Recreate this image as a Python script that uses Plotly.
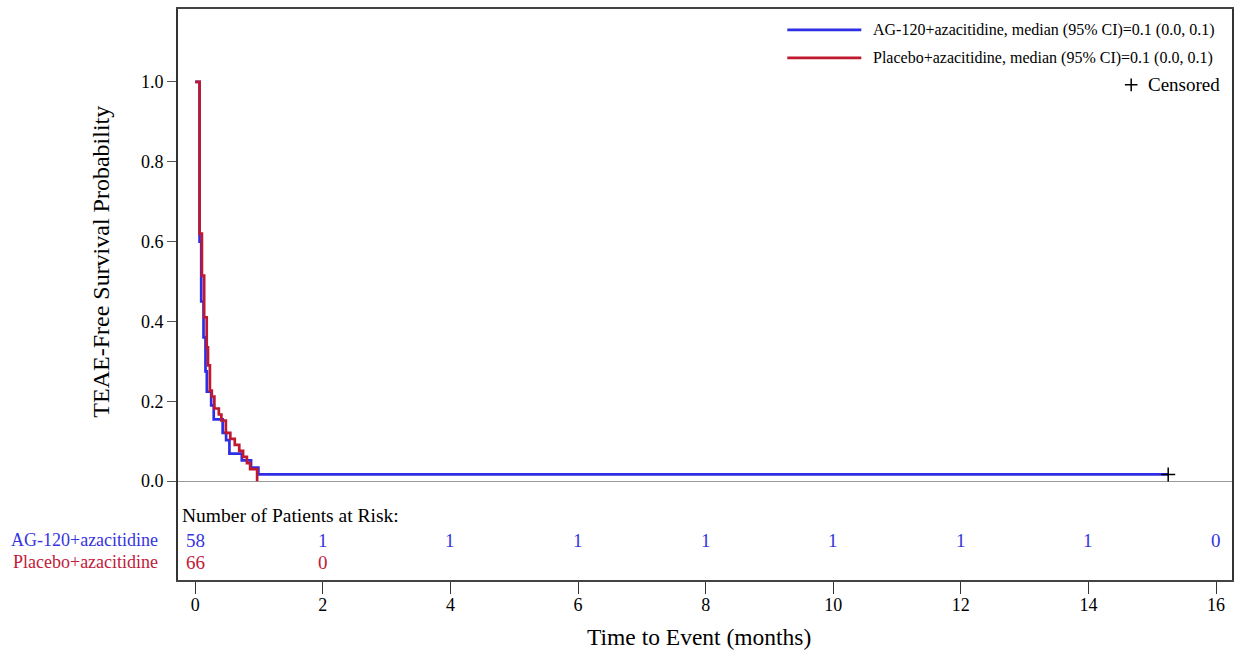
import plotly.graph_objects as go

# Kaplan-Meier step estimates (time in months, survival probability)
ag_time = [0, 0.068, 0.094, 0.13, 0.161, 0.182, 0.25, 0.29, 0.43, 0.484, 0.536, 0.73, 0.875, 0.99, 15.25]
ag_surv = [1.0, 0.60, 0.45, 0.36, 0.275, 0.224, 0.19, 0.155, 0.121, 0.103, 0.069, 0.052, 0.034, 0.017, 0.017]

pb_time = [0, 0.068, 0.105, 0.14, 0.18, 0.20, 0.23, 0.26, 0.30, 0.37, 0.41, 0.48, 0.55, 0.62, 0.69, 0.75, 0.81, 0.86, 0.97]
pb_surv = [1.0, 0.62, 0.515, 0.41, 0.335, 0.29, 0.227, 0.212, 0.182, 0.167, 0.152, 0.121, 0.106, 0.091, 0.076, 0.061, 0.045, 0.03, 0.0]

# Censored observations
cens_time = [15.25]
cens_surv = [0.017]

# Numbers at risk
risk_times = [0, 2, 4, 6, 8, 10, 12, 14, 16]
ag_at_risk = [58, 1, 1, 1, 1, 1, 1, 1, 0]
pb_at_risk = [66, 0]

ag_name = "AG-120+azacitidine"
pb_name = "Placebo+azacitidine"
ag_legend = "AG-120+azacitidine, median (95% CI)=0.1 (0.0, 0.1)"
pb_legend = "Placebo+azacitidine, median (95% CI)=0.1 (0.0, 0.1)"

BLUE = "#2E2EE6"
RED = "#C0182E"
BLUE_TXT = "#3535E0"
RED_TXT = "#C0203A"
FONT = "Liberation Serif"

fig = go.Figure()
fig.add_trace(go.Scatter(x=ag_time, y=ag_surv, mode="lines", line=dict(color=BLUE, width=2.7, shape="hv"),
                         showlegend=False))
fig.add_trace(go.Scatter(x=pb_time, y=pb_surv, mode="lines", line=dict(color=RED, width=2.7, shape="hv"),
                         showlegend=False))
fig.add_trace(go.Scatter(x=cens_time, y=cens_surv, mode="markers",
                         marker=dict(symbol="cross-thin", size=10, line=dict(color="black", width=1.5)),
                         showlegend=False))

annotations = []
shapes = []

# Legend block (top right)
for yv, col, txt in [(1.13, BLUE, ag_legend), (1.06, RED, pb_legend)]:
    shapes.append(dict(type="line", xref="x", yref="y", x0=9.28, x1=10.44, y0=yv, y1=yv,
                       line=dict(color=col, width=2.7)))
    annotations.append(dict(x=10.59, y=yv, xref="x", yref="y", text=txt, showarrow=False,
                            xanchor="left", yanchor="middle", font=dict(family=FONT, size=16, color="black")))
fig.add_trace(go.Scatter(x=[14.67], y=[0.9925], mode="markers",
                         marker=dict(symbol="cross-thin", size=9, line=dict(color="black", width=1.5)),
                         showlegend=False, cliponaxis=False))
annotations.append(dict(x=16.09, y=0.9925, xref="x", yref="y", text="Censored", showarrow=False,
                        xanchor="right", yanchor="middle", font=dict(family=FONT, size=19, color="black")))

# Number-at-risk table
annotations.append(dict(x=-0.24, y=-0.085, xref="x", yref="y", text="Number of Patients at Risk:",
                        showarrow=False, xanchor="left", yanchor="middle",
                        font=dict(family=FONT, size=19.5, color="black")))
for row_y, row_py, counts, col, name in [(-0.1475, 0.0700, ag_at_risk, BLUE_TXT, ag_name),
                                         (-0.2025, 0.0315, pb_at_risk, RED_TXT, pb_name)]:
    annotations.append(dict(x=-0.017, y=row_py, xref="paper", yref="paper", text=name, showarrow=False,
                            xanchor="right", yanchor="middle", font=dict(family=FONT, size=18, color=col)))
    for t, n in zip(risk_times, counts):
        annotations.append(dict(x=t, y=row_y, xref="x", yref="y", text=str(n), showarrow=False,
                                xanchor="center", yanchor="middle", font=dict(family=FONT, size=19, color=col)))

# Axis titles
annotations.append(dict(x=-0.0739, y=0.55, xref="paper", yref="y", text="TEAE-Free Survival Probability",
                        showarrow=False, textangle=-90, xanchor="center", yanchor="middle",
                        font=dict(family=FONT, size=24, color="black")))
annotations.append(dict(x=7.89, y=-0.0998, xref="x", yref="paper", text="Time to Event (months)",
                        showarrow=False, xanchor="center", yanchor="middle",
                        font=dict(family=FONT, size=23.5, color="black")))

fig.update_layout(
    width=1236, height=657,
    margin=dict(l=178, r=2, t=9, b=77),
    paper_bgcolor="white", plot_bgcolor="white",
    annotations=annotations, shapes=shapes,
    showlegend=False,
    font=dict(family=FONT, color="black"),
)
fig.update_xaxes(range=[-0.27, 16.25], tickvals=risk_times, ticks="outside", ticklen=12, tickcolor="#333",
                 showline=True, mirror=True, linecolor="#444", linewidth=2, showgrid=False, zeroline=False,
                 ticklabelstandoff=-5,
                 tickfont=dict(family=FONT, size=18, color="black"))
fig.update_yaxes(range=[-0.2475, 1.1825], tickvals=[0, 0.2, 0.4, 0.6, 0.8, 1.0],
                 ticktext=["0.0", "0.2", "0.4", "0.6", "0.8", "1.0"],
                 ticks="outside", ticklen=9, tickcolor="#555",
                 showline=True, mirror=True, linecolor="#333", linewidth=2, showgrid=False,
                 zeroline=True, zerolinecolor="#9A9A9A", zerolinewidth=1,
                 tickfont=dict(family=FONT, size=18, color="black"))

fig.write_html("out.html")
